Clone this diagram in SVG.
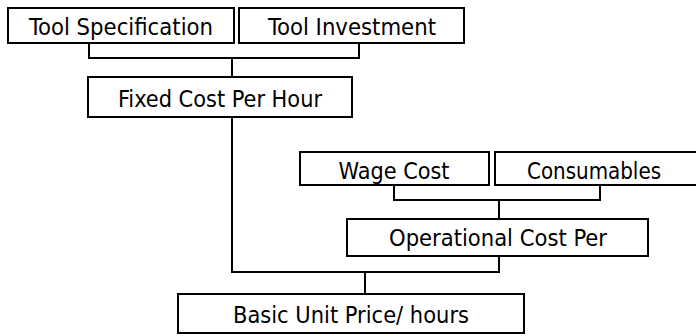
<svg xmlns="http://www.w3.org/2000/svg" width="696" height="336" viewBox="0 0 696 336">
<style>
.box{fill:#fff;stroke:#000;stroke-width:2}
.lbl{font-family:"DejaVu Sans Condensed","DejaVu Sans",Tahoma,sans-serif;font-size:23.5px;fill:#000;text-anchor:middle}
.con{fill:none;stroke:#000;stroke-width:2}
</style>
<rect width="696" height="336" fill="#fff"/>
<g id="connectors">
<path class="con" d="M89,43 V58 H359 V43 M232,58 V77"/>
<path class="con" d="M232,117 V272 H499 V256 M365,272 V294"/>
<path class="con" d="M394,185 V200 H600 V185 M499,200 V219"/>
</g>
<g id="tool-spec"><rect class="box" x="8" y="8" width="226" height="35"/><text class="lbl" x="121" y="35" textLength="184" lengthAdjust="spacingAndGlyphs">Tool Specification</text></g>
<g id="tool-invest"><rect class="box" x="239" y="8" width="225" height="35"/><text class="lbl" x="352" y="35" textLength="168" lengthAdjust="spacingAndGlyphs">Tool Investment</text></g>
<g id="fixed-cost"><rect class="box" x="88" y="77" width="264" height="40"/><text class="lbl" x="220" y="107" textLength="204" lengthAdjust="spacingAndGlyphs">Fixed Cost Per Hour</text></g>
<g id="wage-cost"><rect class="box" x="300" y="152" width="189" height="33"/><text class="lbl" x="394" y="179" textLength="111" lengthAdjust="spacingAndGlyphs">Wage Cost</text></g>
<g id="consumables"><rect class="box" x="495" y="152" width="210" height="33"/><text class="lbl" x="594" y="179" textLength="134" lengthAdjust="spacingAndGlyphs">Consumables</text></g>
<g id="operational-cost"><rect class="box" x="347" y="219" width="301" height="37"/><text class="lbl" x="498" y="246" textLength="218" lengthAdjust="spacingAndGlyphs">Operational Cost Per</text></g>
<g id="basic-unit-price"><rect class="box" x="178" y="294" width="346" height="39"/><text class="lbl" x="351" y="323" textLength="236" lengthAdjust="spacingAndGlyphs">Basic Unit Price/ hours</text></g>
</svg>
